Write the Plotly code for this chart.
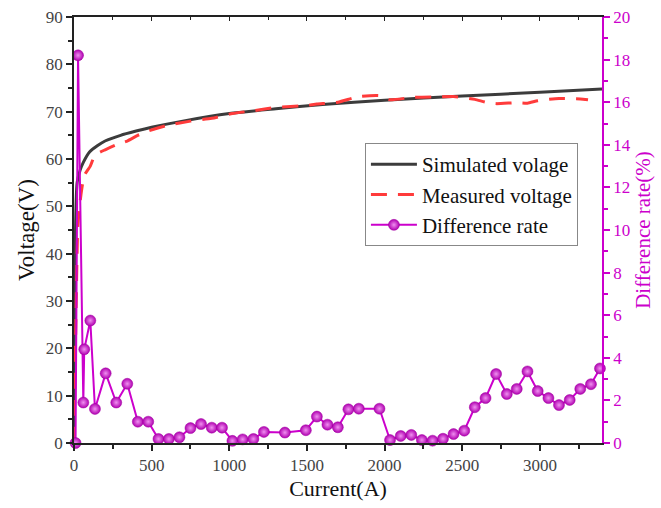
import plotly.graph_objects as go

# Simulated voltage (V) vs current (A)
sim_x = [0, 20, 40, 60, 100, 150, 200, 300, 400, 500, 700, 1000, 1300, 1600, 2000, 2500, 3000, 3400]
sim_y = [0, 55.0, 57.7, 59.3, 61.5, 62.8, 63.8, 65.0, 65.9, 66.7, 68.0, 69.6, 70.6, 71.5, 72.4, 73.3, 74.1, 74.8]

# Measured voltage (V) vs current (A)
meas_x = [0, 12, 25, 45, 66, 105, 135, 204, 272, 343, 411, 478, 545, 611, 750, 887, 1020, 1155, 1300,
          1493, 1564, 1699, 1834, 1967, 2035, 2172, 2309, 2444, 2581, 2650, 2718, 2851, 2920, 2986,
          3123, 3260, 3310]
meas_y = [0, 25, 46, 52.5, 56.5, 58.5, 60.8, 62.0, 63.0, 63.8, 65.0, 65.9, 66.6, 67.2, 68.0, 68.6, 69.6,
          70.2, 70.9, 71.3, 71.6, 72.0, 73.2, 73.4, 72.5, 73.0, 73.1, 73.2, 72.6, 72.0, 71.7, 71.9, 71.8,
          72.3, 72.8, 72.7, 72.5]

# Difference rate (%) vs current (A)
diff_x = [10, 26, 60, 66, 105, 135, 204, 272, 343, 411, 478, 544, 611, 679, 750, 818, 887, 953, 1020,
          1086, 1155, 1223, 1358, 1493, 1564, 1632, 1699, 1767, 1834, 1967, 2035, 2104, 2172, 2240,
          2309, 2376, 2444, 2513, 2581, 2650, 2718, 2787, 2851, 2920, 2986, 3055, 3123, 3192, 3260,
          3329, 3387]
diff_y = [0, 18.2, 1.9, 4.4, 5.75, 1.6, 3.27, 1.9, 2.78, 1.0, 1.0, 0.19, 0.19, 0.27, 0.7, 0.89, 0.72,
          0.72, 0.1, 0.17, 0.19, 0.52, 0.49, 0.6, 1.24, 0.86, 0.74, 1.58, 1.61, 1.61, 0.14, 0.33, 0.38,
          0.14, 0.11, 0.2, 0.42, 0.58, 1.68, 2.11, 3.24, 2.3, 2.54, 3.36, 2.44, 2.11, 1.78, 2.02, 2.54,
          2.76, 3.5]

MAG = "#cc00cc"
FONT = "Liberation Serif, Times New Roman, serif"
TICKC = "#444444"

fig = go.Figure()
fig.add_trace(go.Scatter(x=sim_x, y=sim_y, mode="lines", name="Simulated volage",
                         line=dict(color="#3c3c3c", width=3, shape="spline", smoothing=0.6)))
fig.add_trace(go.Scatter(x=meas_x, y=meas_y, mode="lines", name="Measured voltage",
                         line=dict(color="#ff3b3b", width=3, dash="16px,11px", shape="spline", smoothing=0.5)))
fig.add_trace(go.Scatter(x=diff_x, y=diff_y, mode="lines+markers", name="Difference rate", yaxis="y2",
                         cliponaxis=False,
                         line=dict(color=MAG, width=2),
                         marker=dict(size=11, color="#b000b0",
                                     gradient=dict(type="radial", color="#f090f0"),
                                     line=dict(color="#a000a0", width=0.5))))

fig.update_layout(
    width=661, height=508,
    margin=dict(l=74, r=59, t=17, b=65, autoexpand=False),
    paper_bgcolor="white", plot_bgcolor="white",
    font=dict(family=FONT, size=17, color=TICKC),
    showlegend=True,
    legend=dict(x=0.551, y=0.704, xanchor="left", yanchor="top",
                bgcolor="white", bordercolor="#888888", borderwidth=1,
                font=dict(family=FONT, size=21, color="#111111"),
                tracegroupgap=0, itemwidth=46),
    xaxis=dict(range=[0, 3400], dtick=500, tick0=0, ticks="outside", ticklen=6, tickwidth=1.5,
               tickcolor="#222", showline=True, linecolor="#222", linewidth=1.5, mirror=True,
               showgrid=False, zeroline=False, automargin=False,
               minor=dict(dtick=250, ticks="outside", ticklen=4, tickcolor="#222", showgrid=False),
               title=dict(text="Current(A)", font=dict(family=FONT, size=22, color="#111111"), standoff=6)),
    xaxis2=dict(range=[0, 3400], overlaying="x", side="top", dtick=500, tick0=0, ticks="inside",
                ticklen=4, tickcolor="#222", showticklabels=False, showgrid=False, zeroline=False,
                automargin=False,
                minor=dict(dtick=250, ticks="inside", ticklen=3, tickcolor="#222")),
    yaxis=dict(range=[0, 90], dtick=10, ticks="outside", ticklen=6, tickwidth=1.5, tickcolor="#222",
               showline=True, linecolor="#222", linewidth=1.5, showgrid=False, zeroline=False,
               automargin=False,
               minor=dict(dtick=5, ticks="outside", ticklen=4, tickcolor="#222", showgrid=False),
               title=dict(text="Voltage(V)", font=dict(family=FONT, size=23, color="#111111"), standoff=5)),
    yaxis2=dict(range=[0, 20], dtick=2, overlaying="y", side="right", ticks="outside", ticklen=6,
                tickwidth=1.5, tickcolor=MAG, showline=True, linecolor=MAG, linewidth=1.5,
                showgrid=False, zeroline=False, automargin=False,
                tickfont=dict(color=MAG, family=FONT, size=17),
                minor=dict(dtick=1, ticks="outside", ticklen=4, tickcolor=MAG, showgrid=False),
                title=dict(text="Difference rate(%)", font=dict(family=FONT, size=21, color=MAG), standoff=4)),
)
# invisible helper trace so the mirrored top axis is drawn
fig.add_trace(go.Scatter(x=[0], y=[0], xaxis="x2", mode="markers", marker=dict(opacity=0),
                         showlegend=False, hoverinfo="skip"))

fig.write_html("out.html", config={"displayModeBar": False},
               post_script="document.body.style.margin='0';")
